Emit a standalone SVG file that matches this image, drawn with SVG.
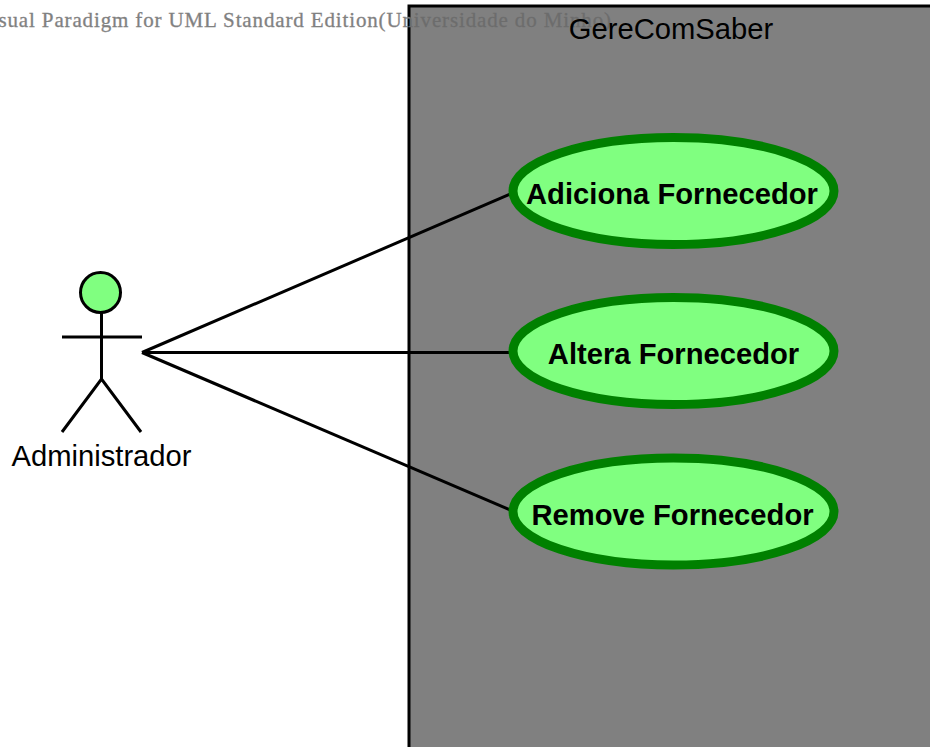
<svg xmlns="http://www.w3.org/2000/svg" width="930" height="747" viewBox="0 0 930 747">
<defs>
<linearGradient id="wm" gradientUnits="userSpaceOnUse" x1="0" y1="0" x2="930" y2="0">
<stop offset="0.44" stop-color="#808080"/><stop offset="0.44" stop-color="#6c6c6c"/>
</linearGradient>
</defs>
<style>
.uc{fill:#80ff80;stroke:#008000;stroke-width:9}
.ucl{font-family:"Liberation Sans",Arial,sans-serif;font-weight:bold;font-size:29.200px;fill:#000;text-anchor:middle}
.lbl{font-family:"Liberation Sans",Arial,sans-serif;font-size:29.200px;fill:#000;text-anchor:middle}
.ln{stroke:#000;stroke-width:3;fill:none}
</style>
<rect width="930" height="747" fill="#fff"/>
<g id="system">
<rect x="409" y="6" width="540" height="760" fill="#808080" stroke="#000" stroke-width="3"/>
</g>
<text id="watermark" x="-23" y="27" font-family="Liberation Serif,serif" font-size="21" textLength="634" lengthAdjust="spacing" fill="url(#wm)" stroke="url(#wm)" stroke-width="0.3">Visual Paradigm for UML Standard Edition(Universidade do Minho)</text>
<text class="lbl" x="671" y="38.500">GereComSaber</text>
<g id="connectors" class="ln">
<line x1="142" y1="352.500" x2="515" y2="192"/>
<line x1="142" y1="352.500" x2="515" y2="352.500"/>
<line x1="142" y1="352.500" x2="515" y2="512"/>
</g>
<g id="actor" class="ln">
<circle cx="100.500" cy="292.500" r="20" fill="#80ff80"/>
<line x1="101.500" y1="313" x2="101.500" y2="379"/>
<line x1="62" y1="337" x2="142" y2="337"/>
<path d="M62 432L101.500 379L141 432"/>
</g>
<text class="lbl" x="101.500" y="465.500">Administrador</text>
<g id="uc1"><ellipse class="uc" cx="673.500" cy="191" rx="160.500" ry="53.500"/><text class="ucl" x="672" y="203.500">Adiciona Fornecedor</text></g>
<g id="uc2"><ellipse class="uc" cx="673.500" cy="351" rx="160.500" ry="53.500"/><text class="ucl" x="673.500" y="363.500">Altera Fornecedor</text></g>
<g id="uc3"><ellipse class="uc" cx="673.500" cy="511.500" rx="160.500" ry="53.500"/><text class="ucl" x="672.500" y="524.500">Remove Fornecedor</text></g>
</svg>
